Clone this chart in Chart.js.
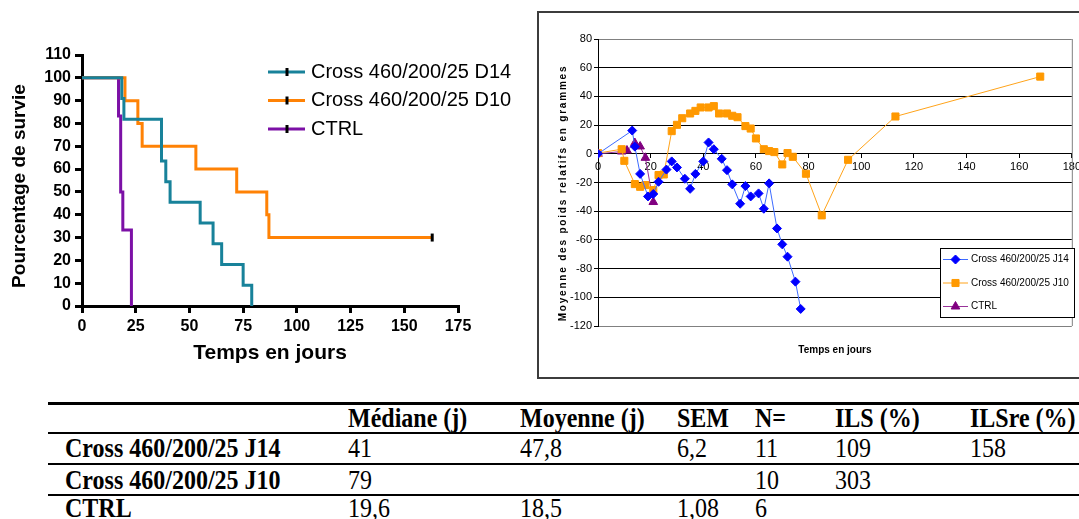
<!DOCTYPE html>
<html>
<head>
<meta charset="utf-8">
<script src="https://cdn.jsdelivr.net/npm/chart.js@4.4.0/dist/chart.umd.min.js"></script>
<style>
  body { margin: 0; width: 1079px; height: 519px; overflow: hidden; background: #fff; position: relative; }
  #survie { position: absolute; left: 0; top: 0; }
  #cadrePoids { position: absolute; left: 537px; top: 11px; width: 560px; height: 364px; border: 2px solid #3c3c3c; }
  #poids { position: absolute; left: 539px; top: 13px; }
  .cell { position: absolute; font-family: "Liberation Serif", "Times New Roman", serif; font-size: 24px; line-height: 24px; white-space: nowrap; color: #000; transform: scaleY(1.15); transform-origin: 0 50%; }
  .bold { font-weight: bold; }
  .rule { position: absolute; left: 48px; width: 1040px; background: #000; }
</style>
</head>
<body>
<canvas id="survie" width="535" height="395" style="width:535px;height:395px"></canvas>
<div id="cadrePoids"></div>
<canvas id="poids" width="545" height="364" style="width:545px;height:364px"></canvas>
<div id="tableau"></div>

<script>
// --- courbes de survie (Kaplan-Meier)
const survieLabels = ['Cross 460/200/25 D14', 'Cross 460/200/25 D10', 'CTRL'];
const survieCouleurs = ['#18829A', '#FF8205', '#7C10A6'];
const d14Jours = [0, 18.5, 19.5, 37, 39, 41, 55, 61, 65, 75, 79];
const d14Survie = [100, 90.9, 81.8, 63.6, 54.5, 45.5, 36.4, 27.3, 18.2, 9.1, 0];
const d10Jours = [0, 20, 26, 28, 53, 72, 86, 87, 163];
const d10Survie = [100, 90, 80, 70, 60, 50, 40, 30, 30];
const ctrlJours = [0, 17, 18, 19, 23];
const ctrlSurvie = [100, 83.3, 50, 33.3, 0];
const survieTicksX = [0, 25, 50, 75, 100, 125, 150, 175];

// --- poids relatifs
const poidsLabels = ['Cross 460/200/25 J14', 'Cross 460/200/25 J10', 'CTRL'];
const j14Jours = [0, 13, 14, 16, 19, 21, 23, 26, 28, 30, 33, 35, 37, 40, 42, 44, 47, 49, 51, 54, 56, 58, 61, 63, 65, 68, 70, 72, 75, 77];
const j14Poids = [0, 16.2, 5, -14, -29.7, -28, -19.5, -11, -5.3, -9.5, -17.4, -24.4, -14, -5.3, 7.9, 3.2, -3.5, -11.4, -21.3, -34.8, -22.5, -29.7, -27.6, -38.3, -20.6, -52, -63.1, -71.7, -89.1, -108.1];
const j10Jours = [0, 9, 10, 14, 16, 18, 21, 23, 25, 28, 30, 32, 35, 37, 39, 42, 44, 46, 49, 51, 53, 56, 58, 60, 63, 65, 67, 70, 72, 74, 79, 85, 95, 113, 168];
const j10Poids = [0.5, 3.2, -4.9, -21.1, -23, -21.8, -25.3, -14.8, -14.4, 15.8, 20.2, 24.8, 28.1, 29.9, 32.3, 32.3, 33.2, 28.1, 28.1, 26.5, 25.5, 19.3, 17.6, 10.7, 3.2, 1.9, 1.2, -7.4, 0.5, -2.1, -13.9, -42.9, -4.2, 26, 53.8];
const ctrlPJours = [0, 9, 11, 14, 16, 18, 21];
const ctrlPoids = [0, 1.6, 2.3, 7.5, 5.1, -2.8, -33.6];

// --- tableau
const colonnes = ['Médiane (j)', 'Moyenne (j)', 'SEM', 'N=', 'ILS (%)', 'ILSre (%)'];
const groupes = ['Cross 460/200/25 J14', 'Cross 460/200/25 J10', 'CTRL'];
const mediane = ['41', '79', '19,6'];
const moyenne = ['47,8', '', '18,5'];
const sem = ['6,2', '', '1,08'];
const effectif = ['11', '10', '6'];
const ils = ['109', '303', ''];
const ilsRe = ['158', '', ''];

const toPoints = (xs, ys) => xs.map((x, i) => ({ x: x, y: ys[i] }));
const sansSerif = '"Liberation Sans", Arial, sans-serif';

// legende a droite des courbes de survie + titre vertical
const legendeSurvie = {
  id: 'legendeSurvie',
  afterDraw(chart) {
    const ctx = chart.ctx;
    ctx.save();
    chart.data.datasets.forEach((ds, i) => {
      const y = 72 + i * 28.5;
      ctx.strokeStyle = ds.borderColor;
      ctx.lineWidth = 3;
      ctx.beginPath(); ctx.moveTo(268, y); ctx.lineTo(305, y); ctx.stroke();
      ctx.strokeStyle = '#000';
      ctx.beginPath(); ctx.moveTo(287, y - 4); ctx.lineTo(287, y + 4); ctx.stroke();
      ctx.fillStyle = '#000';
      ctx.font = '20px ' + sansSerif;
      ctx.textBaseline = 'middle';
      ctx.fillText(ds.label, 311, y);
    });
    ctx.translate(20, 186);
    ctx.rotate(-Math.PI / 2);
    ctx.font = 'bold 19px ' + sansSerif;
    ctx.textAlign = 'center';
    ctx.fillText('Pourcentage de survie', 0, 0);
    ctx.restore();
  }
};

function survieDataset(i, xs, ys) {
  return {
    label: survieLabels[i],
    data: toPoints(xs, ys),
    borderColor: survieCouleurs[i],
    borderWidth: 3,
    stepped: 'before',
    fill: false,
    pointStyle: 'line',
    rotation: 90,
    pointBorderColor: '#000',
    pointBorderWidth: 3,
    // marque de censure sur le dernier point encore vivant
    pointRadius: ctx => (ctx.dataIndex === ys.length - 1 && ys[ys.length - 1] > 0) ? 4 : 0
  };
}

new Chart(document.getElementById('survie'), {
  type: 'scatter',
  data: {
    datasets: [
      survieDataset(0, d14Jours, d14Survie),
      survieDataset(1, d10Jours, d10Survie),
      survieDataset(2, ctrlJours, ctrlSurvie)
    ]
  },
  options: {
    responsive: false,
    animation: false,
    showLine: true,
    layout: { padding: { top: 55, right: 77, bottom: 0, left: 0 } },
    plugins: { legend: { display: false }, tooltip: { enabled: false } },
    scales: {
      x: {
        type: 'linear', min: 0, max: 175,
        afterFit: s => { s.height = 89; },
        afterBuildTicks: s => { s.ticks = survieTicksX.map(v => ({ value: v })); },
        border: { color: '#000', width: 3 },
        grid: { drawOnChartArea: false, color: '#000', lineWidth: 3, tickLength: 7 },
        ticks: { color: '#000', padding: 4, font: { family: sansSerif, size: 16, weight: 'bold' } },
        title: { display: true, text: 'Temps en jours', color: '#000', padding: { top: 0, bottom: 29 },
                 font: { family: sansSerif, size: 21, weight: 'bold' } }
      },
      y: {
        min: 0, max: 110,
        afterFit: s => { s.width = 82; },
        border: { color: '#000', width: 3 },
        grid: { drawOnChartArea: false, color: '#000', lineWidth: 3, tickLength: 7 },
        ticks: { stepSize: 10, color: '#000', padding: 4, font: { family: sansSerif, size: 16, weight: 'bold' } }
      }
    }
  },
  plugins: [legendeSurvie]
});

// --- poids relatifs : titres, bord du cadre et legende encadree
const habillagePoids = {
  id: 'habillagePoids',
  afterDraw(chart) {
    const ctx = chart.ctx;
    const a = chart.chartArea;
    ctx.save();
    ctx.strokeStyle = '#808080';
    ctx.lineWidth = 1;
    ctx.beginPath(); ctx.moveTo(a.right + 0.5, a.top); ctx.lineTo(a.right + 0.5, a.bottom); ctx.stroke();

    ctx.fillStyle = '#000';
    ctx.font = 'bold 10px ' + sansSerif;
    ctx.textAlign = 'center';
    ctx.textBaseline = 'middle';
    ctx.fillText('Temps en jours', (a.left + a.right) / 2, 337);

    ctx.translate(24, 180);
    ctx.rotate(-Math.PI / 2);
    ctx.letterSpacing = '1.8px';
    ctx.fillText('Moyenne des poids relatifs en grammes', 0, 0);
    ctx.restore();

    // legende
    ctx.save();
    const bx = 401.5, by = 235.5, bw = 134, bh = 69;
    ctx.fillStyle = '#fff';
    ctx.fillRect(bx, by, bw, bh);
    ctx.strokeStyle = '#000';
    ctx.lineWidth = 1;
    ctx.strokeRect(bx, by, bw, bh);
    chart.data.datasets.forEach((ds, i) => {
      const y = 246.5 + i * 23.5;
      ctx.strokeStyle = ds.borderColor;
      ctx.lineWidth = 1;
      ctx.beginPath(); ctx.moveTo(404, y); ctx.lineTo(429, y); ctx.stroke();
      ctx.fillStyle = ds.pointBackgroundColor;
      ctx.strokeStyle = ds.pointBorderColor;
      Chart.helpers.drawPoint(ctx, { pointStyle: ds.pointStyle, radius: ds.pointRadius, borderWidth: 1, rotation: 0 }, 416.5, y);
      ctx.fillStyle = '#000';
      ctx.font = '10px ' + sansSerif;
      ctx.textBaseline = 'middle';
      ctx.fillText(ds.label, 432, y);
    });
    ctx.restore();
  }
};

function poidsDataset(i, xs, ys, ligne, point, style, rayon) {
  return {
    label: poidsLabels[i],
    data: toPoints(xs, ys),
    showLine: true,
    borderColor: ligne,
    borderWidth: 1,
    pointStyle: style,
    pointRadius: rayon,
    pointBackgroundColor: point,
    pointBorderColor: point,
    pointBorderWidth: 1
  };
}

new Chart(document.getElementById('poids'), {
  type: 'scatter',
  data: {
    datasets: [
      poidsDataset(0, j14Jours, j14Poids, '#3D6BFF', '#0000FF', 'rectRot', 4.5),
      poidsDataset(1, j10Jours, j10Poids, '#FFA31A', '#FF9900', 'rect', 5),
      poidsDataset(2, ctrlPJours, ctrlPoids, '#993399', '#800080', 'triangle', 5)
    ]
  },
  options: {
    responsive: false,
    animation: false,
    layout: { padding: { top: 26, right: 10, bottom: 51, left: 0 } },
    plugins: { legend: { display: false }, tooltip: { enabled: false } },
    scales: {
      x: {
        type: 'linear', min: 0, max: 180,
        position: { y: 0 },
        border: { color: '#000', width: 1 },
        grid: { drawOnChartArea: false, color: '#000', tickLength: 4 },
        ticks: { stepSize: 20, color: '#000', padding: 3, font: { family: sansSerif, size: 11 } }
      },
      y: {
        min: -120, max: 80,
        afterFit: s => { s.width = 59; },
        border: { color: '#000', width: 1 },
        grid: {
          color: c => (c.tick && (c.tick.value === 80 || c.tick.value === -120)) ? '#808080' : '#000',
          tickColor: '#000',
          tickLength: 4
        },
        ticks: { stepSize: 20, color: '#000', padding: 2, font: { family: sansSerif, size: 11 } }
      }
    }
  },
  plugins: [habillagePoids]
});

// --- tableau recapitulatif
const tableau = document.getElementById('tableau');
const colX = [348, 520, 677, 755, 835, 970];
const enteteY = 418;
const lignesY = [448, 480, 508];
function cellule(texte, x, yCentre, gras) {
  const d = document.createElement('div');
  d.className = 'cell' + (gras ? ' bold' : '');
  d.textContent = texte;
  d.style.left = x + 'px';
  d.style.top = (yCentre - 12) + 'px';
  tableau.appendChild(d);
}
function trait(y, h) {
  const d = document.createElement('div');
  d.className = 'rule';
  d.style.top = y + 'px';
  d.style.height = h + 'px';
  tableau.appendChild(d);
}
trait(402, 3);
trait(432, 2);
trait(463, 2);
trait(494, 2);
colonnes.forEach((c, j) => cellule(c, colX[j], enteteY, true));
const valeurs = [mediane, moyenne, sem, effectif, ils, ilsRe];
groupes.forEach((g, i) => {
  cellule(g, 65, lignesY[i], true);
  valeurs.forEach((col, j) => cellule(col[i], colX[j], lignesY[i], false));
});
</script>
</body>
</html>
